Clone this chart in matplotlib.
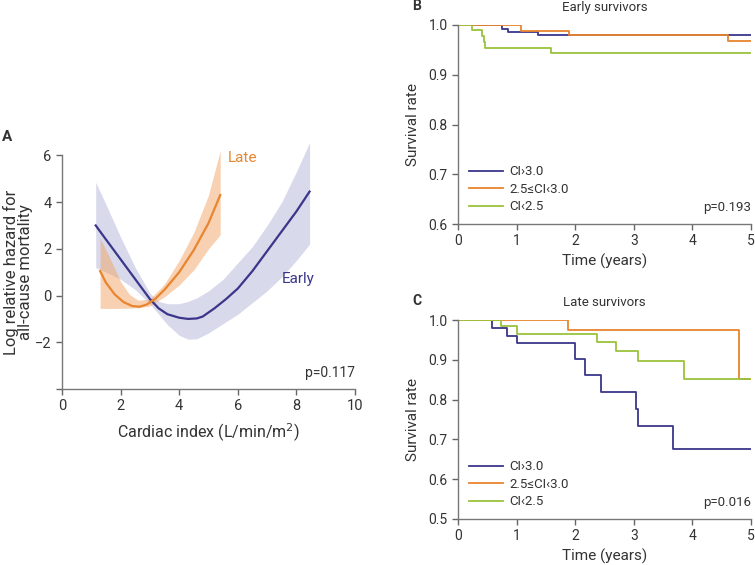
import matplotlib
matplotlib.use('Agg')
from matplotlib import pyplot as plt

plt.rcParams['font.family'] = ['Roboto', 'DejaVu Sans']
plt.rcParams['text.color'] = '#333333'
plt.rcParams['axes.labelcolor'] = '#333333'
plt.rcParams['xtick.color'] = '#666666'
plt.rcParams['ytick.color'] = '#666666'
plt.rcParams['xtick.labelcolor'] = '#333333'
plt.rcParams['ytick.labelcolor'] = '#333333'

BLUE = '#3b3689'
ORANGE = '#e8852f'
GREEN = '#9bc23c'

# ---- panel A: spline curves with CI bands
early_x = [1.15, 1.5, 2.0, 2.5, 3.0, 3.3, 3.6, 4.0, 4.3, 4.6, 4.8, 5.2, 5.6, 6.0, 6.5, 7.0, 7.5, 8.0, 8.45]
early_y = [3.0, 2.4, 1.55, 0.7, -0.15, -0.55, -0.8, -0.95, -1.0, -0.98, -0.9, -0.55, -0.15, 0.3, 1.05, 1.9, 2.75, 3.6, 4.45]
early_band_x = [1.15, 1.5, 2.0, 2.5, 3.0, 3.3, 3.6, 4.0, 4.3, 4.6, 5.0, 5.5, 6.0, 6.5, 7.0, 7.5, 8.0, 8.45]
early_upper = [4.85, 3.9, 2.5, 1.2, 0.1, -0.25, -0.35, -0.35, -0.25, -0.1, 0.2, 0.7, 1.4, 2.1, 3.0, 4.0, 5.3, 6.55]
early_lower = [1.2, 1.0, 0.7, 0.25, -0.35, -0.8, -1.25, -1.7, -1.87, -1.85, -1.6, -1.2, -0.8, -0.3, 0.2, 0.8, 1.5, 2.2]

late_x = [1.3, 1.5, 1.8, 2.1, 2.4, 2.65, 2.9, 3.2, 3.5, 4.0, 4.5, 5.0, 5.4]
late_y = [1.05, 0.55, 0.05, -0.28, -0.45, -0.48, -0.38, -0.12, 0.25, 1.0, 1.95, 3.1, 4.3]
late_band_x = [1.3, 1.6, 2.0, 2.3, 2.6, 3.0, 3.5, 4.0, 4.5, 5.0, 5.4]
late_upper = [2.45, 1.7, 0.6, 0.05, -0.2, -0.15, 0.5, 1.5, 2.7, 4.3, 6.2]
late_lower = [-0.55, -0.55, -0.55, -0.54, -0.52, -0.45, -0.05, 0.45, 1.1, 2.0, 2.6]

# ---- panel B: early survivors (Kaplan-Meier)
b_t_hi = [0, 0.75, 0.85, 1.36, 5]
b_s_hi = [1, 0.991, 0.985, 0.98, 0.98]
b_t_mid = [0, 1.07, 1.9, 4.6, 5]
b_s_mid = [1, 0.987, 0.98, 0.968, 0.968]
b_t_lo = [0, 0.24, 0.41, 0.44, 0.46, 1.59, 5]
b_s_lo = [1, 0.989, 0.977, 0.966, 0.954, 0.944, 0.944]

# ---- panel C: late survivors
c_t_hi = [0, 0.58, 0.84, 1.01, 2.0, 2.16, 2.44, 3.03, 3.07, 3.67, 5]
c_s_hi = [1, 0.981, 0.96, 0.941, 0.901, 0.862, 0.82, 0.777, 0.734, 0.677, 0.677]
c_t_mid = [0, 1.88, 4.79, 5]
c_s_mid = [1, 0.975, 0.851, 0.851]
c_t_lo = [0, 0.73, 1.01, 2.37, 2.70, 3.07, 3.85, 5]
c_s_lo = [1, 0.986, 0.965, 0.944, 0.921, 0.898, 0.851, 0.851]

labels = ['CI\u203a3.0', '2.5\u2264CI\u20393.0', 'CI\u20392.5']

W, H = 755, 565
fig = plt.figure(figsize=(W / 100, H / 100), dpi=100)


def px_axes(left, top, right, bottom):
    return fig.add_axes([left / W, 1 - bottom / H, (right - left) / W, (bottom - top) / H])


def style(ax):
    for s in ['top', 'right']:
        ax.spines[s].set_visible(False)
    for s in ['left', 'bottom']:
        ax.spines[s].set_color('#777777')
        ax.spines[s].set_linewidth(1.0)
    ax.tick_params(direction='out', length=4, width=1.0, labelsize=10)


# panel A
ax = px_axes(62, 139, 355, 389)
ax.fill_between(early_band_x, early_lower, early_upper, color='#d9d9ec', lw=0)
ax.fill_between(late_band_x, late_lower, late_upper, color='#f2a466', alpha=0.5, lw=0)
ax.plot(early_x, early_y, color=BLUE, lw=1.6)
ax.plot(late_x, late_y, color=ORANGE, lw=1.6)
ax.set_xlim(0, 10)
ax.set_ylim(-4, 6.7)
ax.spines['left'].set_bounds(-4, 6)
ax.set_xticks([0, 2, 4, 6, 8, 10])
ax.set_yticks([-4, -2, 0, 2, 4, 6])
ax.set_yticklabels(['', '\u22122', '0', '2', '4', '6'])
style(ax)
ax.tick_params(labelsize=10.5)
ax.set_xlabel('Cardiac index (L/min/m$^2$)', fontsize=11.5, labelpad=6)
ax.set_ylabel('Log relative hazard for\nall-cause mortality', fontsize=12, linespacing=0.85)
ax.yaxis.set_label_coords(-0.1, (6 + 4) / 2 / 10.7)
ax.text(5.65, 5.9, 'Late', color=ORANGE, fontsize=11, va='center')
ax.text(7.5, 0.7, 'Early', color=BLUE, fontsize=11, va='center')
ax.text(10, -3.3, 'p=0.117', fontsize=10, ha='right', va='center')
fig.text(2 / W, 1 - 137 / H, 'A', fontsize=11, fontweight='bold', va='center')


def km_panel(top, bottom, ymin, yticks, series, title, letter, ptext):
    ax = px_axes(458, top, 751, bottom)
    for t, s, c in series:
        ax.step(t, s, where='post', color=c, lw=1.3)
    ax.set_xlim(0, 5)
    ax.set_ylim(ymin, 1.0)
    ax.set_xticks([0, 1, 2, 3, 4, 5])
    ax.set_yticks(yticks)
    ax.set_yticklabels(['%.1f' % v for v in yticks])
    style(ax)
    ax.set_xlabel('Time (years)', fontsize=11, labelpad=4)
    ax.set_ylabel('Survival rate', fontsize=11, labelpad=6)
    ax.set_title(title, fontsize=9.5, pad=10)
    handles = [plt.Line2D([], [], color=c, lw=1.3) for _, _, c in series]
    ax.legend(handles, labels, loc='lower left', frameon=False, fontsize=9.5,
              handlelength=2.6, handletextpad=0.5, labelspacing=0.35,
              bbox_to_anchor=(0.0, 0.0), borderaxespad=0.4)
    ax.text(5, ymin + (1 - ymin) * 0.085, ptext, fontsize=9.5, ha='right', va='center')
    fig.text(412 / W, 1 - (top - 19) / H, letter, fontsize=10, fontweight='bold', va='center')
    return ax


km_panel(25, 224, 0.6, [0.6, 0.7, 0.8, 0.9, 1.0],
         [(b_t_hi, b_s_hi, BLUE), (b_t_mid, b_s_mid, ORANGE), (b_t_lo, b_s_lo, GREEN)],
         'Early survivors', 'B', 'p=0.193')
km_panel(320, 519, 0.5, [0.5, 0.6, 0.7, 0.8, 0.9, 1.0],
         [(c_t_hi, c_s_hi, BLUE), (c_t_mid, c_s_mid, ORANGE), (c_t_lo, c_s_lo, GREEN)],
         'Late survivors', 'C', 'p=0.016')

fig.savefig('out.png', dpi=100)
